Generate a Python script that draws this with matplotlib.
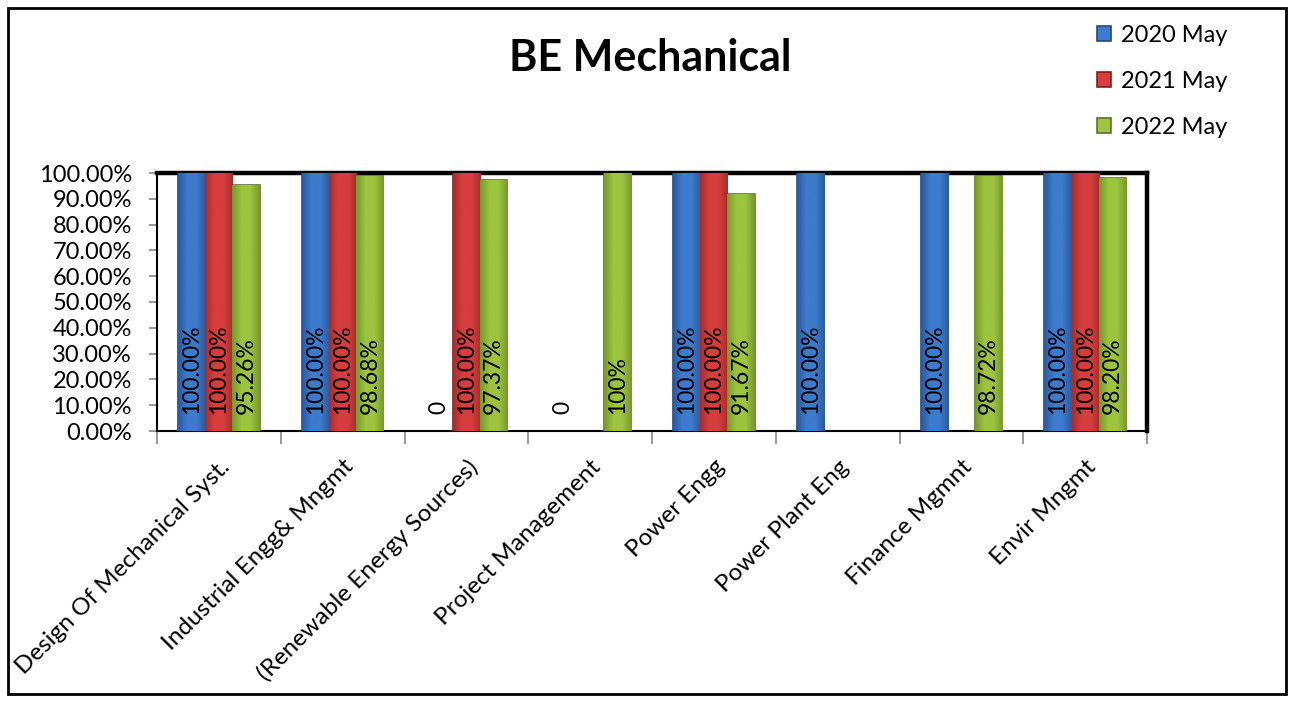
import numpy as np
import matplotlib
matplotlib.use('Agg')
import matplotlib.pyplot as plt
from matplotlib.patches import Rectangle
from matplotlib.colors import LinearSegmentedColormap
from matplotlib.ticker import FixedLocator, FuncFormatter

plt.rcParams['font.family'] = ['Lato', 'DejaVu Sans']

subjects = ['Design Of Mechanical Syst.', 'Industrial Engg& Mngmt', '(Renewable Energy Sources)',
            'Project Management', 'Power Engg', 'Power Plant Eng', 'Finance Mgmnt', 'Envir Mngmt']
years = ['2020 May', '2021 May', '2022 May']

# nan = no bar, no label
may2020 = [100.0, 100.0, 0.0, 0.0, 100.0, 100.0, 100.0, 100.0]
may2021 = [100.0, 100.0, 100.0, np.nan, 100.0, np.nan, np.nan, 100.0]
may2022 = [95.26, 98.68, 97.37, 100.0, 91.67, np.nan, 98.72, 98.20]

labels2020 = ['100.00%', '100.00%', '0', '0', '100.00%', '100.00%', '100.00%', '100.00%']
labels2021 = ['100.00%', '100.00%', '100.00%', '', '100.00%', '', '', '100.00%']
labels2022 = ['95.26%', '98.68%', '97.37%', '100%', '91.67%', '', '98.72%', '98.20%']

series = [may2020, may2021, may2022]
series_labels = [labels2020, labels2021, labels2022]
faces = ['#3d7bcc', '#d63e3e', '#9cc43e']
darks = ['#2a5a9e', '#a82c2c', '#76982c']
edges = ['#23497e', '#7e2222', '#5c7424']

fig = plt.figure(figsize=(12.94, 7.02), dpi=100)
ax = fig.add_axes([157 / 1294, 1 - 431 / 702, 990 / 1294, 258 / 702])

x = np.arange(len(subjects))
w = 0.22
grad = np.linspace(0, 1, 64).reshape(1, -1)
for i, (vals, labs) in enumerate(zip(series, series_labels)):
    pos = x + (i - 1) * w
    v = np.array(vals)
    ok = ~np.isnan(v) & (np.nan_to_num(v) > 0)
    bars = ax.bar(pos[ok], v[ok], width=w, color=faces[i], edgecolor=edges[i], linewidth=1.2,
                  label=years[i], zorder=3)
    cmap = LinearSegmentedColormap.from_list('b%d' % i, [darks[i], faces[i], faces[i], darks[i]])
    for b in bars:
        x0, y0 = b.get_x(), b.get_y()
        im = ax.imshow(grad, cmap=cmap, aspect='auto', zorder=3.5,
                       extent=[x0, x0 + b.get_width(), y0, y0 + b.get_height()])
        im.set_clip_path(b)
    for px, lab in zip(pos, labs):
        if lab:
            ax.annotate(lab, xy=(px, 0), xytext=(0, 12), textcoords='offset points',
                        rotation=90, ha='center', va='bottom', fontsize=16.5, zorder=5)

ax.set_xlim(-0.5, len(subjects) - 0.5)
ax.set_ylim(0, 100)
ax.yaxis.set_major_locator(FixedLocator(np.arange(0, 101, 10)))
ax.yaxis.set_major_formatter(FuncFormatter(lambda v, p: f'{v:.2f}%'))
ax.tick_params(axis='y', labelsize=17, length=6, color='#888888', width=1.2, pad=12)

ax.set_xticks(x)
ax.set_xticklabels(subjects, rotation=45, ha='right', va='top', rotation_mode='anchor', fontsize=17.5)
ax.tick_params(axis='x', which='major', length=0, pad=18)
ax.set_xticks(np.arange(-0.5, len(subjects)), minor=True)
ax.tick_params(axis='x', which='minor', length=9, color='#888888', width=1.2)

for s in ['left', 'bottom']:
    ax.spines[s].set_linewidth(1.5)
for s in ['top', 'right']:
    ax.spines[s].set_linewidth(3.2)

fig.text(650 / 1294, 1 - 58 / 702, 'BE Mechanical', ha='center', va='center',
         fontsize=31, fontweight='bold')

fig.legend(loc='upper left', bbox_to_anchor=(1076 / 1294, 1 - 4 / 702), frameon=False,
           fontsize=17, handlelength=0.6, handleheight=0.6, handletextpad=0.4, labelspacing=1.05)

fig.patches.append(Rectangle((8 / 1294, 8 / 702), 1278 / 1294, 686 / 702, transform=fig.transFigure,
                             fill=False, edgecolor='black', linewidth=2))

fig.savefig('out.png', dpi=100)
